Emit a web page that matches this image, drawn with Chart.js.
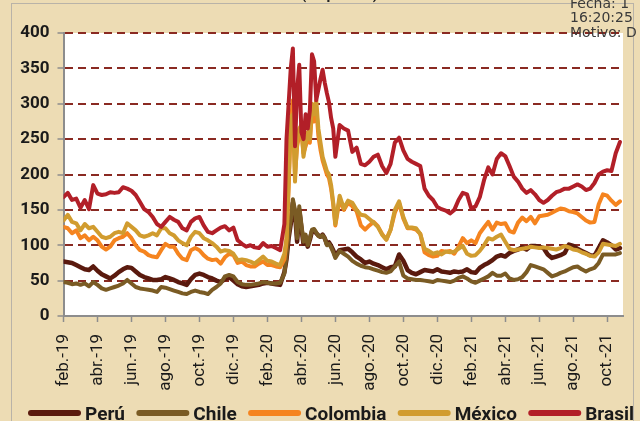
<!DOCTYPE html>
<html>
<head>
<meta charset="utf-8">
<script src="https://cdn.jsdelivr.net/npm/chart.js@4/dist/chart.umd.min.js"></script>
<style>
  html, body { margin: 0; padding: 0; background: #eddcb4; }
  #wrap { width: 640px; height: 421px; position: relative; }
</style>
</head>
<body>
<div id="wrap"><canvas id="chart" width="640" height="421"></canvas></div>
<script>
// months since 1 Feb 2019: weekly, then half-weekly through the March 2020 spike
function steps(from, to, step) {
    const out = [];
    for (let v = from; v <= to + 1e-9; v += step) out.push(Math.round(v * 1000) / 1000);
    return out;
}
const months = [...steps(0, 12.75, 0.25), ...steps(13, 15.875, 0.125), ...steps(16, 32.75, 0.25)];

const tickMonths = [0, 2, 4, 6, 8, 10, 12, 14, 16, 18, 20, 22, 24, 26, 28, 30, 32];
const tickLabels = ['feb.-19', 'abr.-19', 'jun.-19', 'ago.-19', 'oct.-19', 'dic.-19', 'feb.-20', 'abr.-20', 'jun.-20',
    'ago.-20', 'oct.-20', 'dic.-20', 'feb.-21', 'abr.-21', 'jun.-21', 'ago.-21', 'oct.-21'];
const yTicks = [0, 50, 100, 150, 200, 250, 300, 350, 400];

const seriesNames = ['Perú', 'Chile', 'Colombia', 'México', 'Brasil'];
const seriesColors = ['#5a1a0e', '#7a5b24', '#f5841f', '#d19c2f', '#b21f28'];
const seriesWidths = [4.5, 4, 4, 4, 4];

const peru = [
    77, 76, 75, 72, 69, 66, 65, 70, 64, 59, 56, 53, 57, 62, 66, 69, 68, 63, 58, 55, 53, 51, 51, 52, 55, 53,
    51, 48, 46, 44, 52, 58, 60, 58, 55, 53, 50, 48, 52, 55, 50, 45, 42, 41, 42, 43, 44, 46, 47, 46, 45, 44,
    62, 80, 110, 130, 160, 145, 105, 150, 125, 102, 112, 98, 108, 120, 121, 117, 114, 112, 115, 110, 102, 104, 99, 93,
    85, 93, 94, 95, 90, 84, 80, 75, 77, 74, 72, 69, 66, 69, 70, 87, 78, 65, 61, 59, 62, 65, 64, 63,
    66, 63, 62, 61, 63, 62, 63, 66, 62, 61, 68, 72, 75, 79, 84, 86, 84, 89, 92, 94, 97, 94, 99, 99,
    98, 96, 87, 82, 84, 86, 89, 101, 99, 95, 92, 89, 86, 85, 96, 107, 104, 100, 94, 96
];
const chile = [
    48, 47, 45, 46, 44, 46, 42, 48, 44, 39, 37, 39, 41, 43, 46, 51, 46, 41, 39, 38, 37, 36, 34, 41, 40, 38,
    36, 34, 32, 31, 34, 36, 34, 33, 31, 37, 41, 46, 56, 58, 56, 48, 45, 44, 44, 45, 46, 48, 47, 46, 46, 47,
    60, 85, 115, 135, 165, 150, 110, 155, 130, 105, 115, 100, 110, 122, 123, 118, 113, 112, 114, 110, 100, 102, 97, 90,
    82, 92, 88, 84, 78, 74, 71, 69, 68, 66, 64, 62, 61, 63, 70, 77, 57, 53, 52, 51, 51, 50, 49, 48,
    51, 50, 49, 48, 50, 54, 56, 53, 49, 47, 50, 53, 56, 61, 57, 57, 60, 53, 51, 52, 55, 62, 72, 70,
    68, 66, 61, 56, 58, 61, 63, 66, 69, 70, 66, 63, 66, 68, 75, 87, 87, 87, 87, 89
];
const colombia = [
    126, 124, 117, 121, 110, 114, 107, 112, 107, 98, 94, 98, 107, 110, 112, 117, 110, 100, 93, 91, 86, 84, 83, 93, 102, 98,
    98, 88, 81, 79, 93, 96, 93, 86, 81, 79, 80, 74, 83, 88, 86, 75, 77, 72, 70, 70, 74, 77, 72, 72, 70, 69,
    80, 105, 180, 270, 305, 200, 240, 255, 262, 230, 240, 250, 245, 290, 275, 295, 255, 235, 220, 210, 200, 195, 180, 158,
    128, 165, 150, 160, 155, 148, 128, 122, 128, 133, 127, 116, 108, 122, 146, 160, 138, 124, 124, 122, 116, 90, 86, 84,
    85, 92, 91, 92, 88, 98, 110, 103, 107, 103, 117, 125, 133, 122, 132, 130, 131, 120, 118, 132, 139, 134, 140, 131,
    141, 142, 143, 146, 149, 152, 151, 148, 147, 145, 140, 135, 132, 133, 158, 172, 170, 163, 157, 162
];
const mexico = [
    135, 143, 133, 131, 121, 130, 124, 126, 119, 112, 110, 112, 117, 119, 117, 131, 126, 121, 114, 112, 114, 117, 114, 124, 124, 117,
    114, 107, 103, 100, 112, 119, 117, 110, 107, 103, 98, 91, 93, 92, 88, 79, 80, 79, 77, 74, 79, 84, 78, 77, 74, 72,
    88, 110, 190, 280, 285, 190, 250, 265, 270, 225, 245, 260, 250, 300, 285, 305, 265, 245, 225, 215, 205, 200, 185, 160,
    130, 170, 152, 163, 160, 150, 143, 142, 137, 132, 126, 115, 108, 122, 150, 162, 140, 125, 125, 124, 116, 95, 92, 88,
    90, 87, 91, 90, 91, 95, 99, 88, 85, 86, 92, 100, 110, 108, 112, 115, 105, 95, 93, 94, 95, 96, 98, 97,
    96, 97, 96, 95, 94, 96, 99, 97, 94, 93, 90, 88, 85, 84, 90, 102, 101, 100, 99, 102
];
const brasil = [
    168, 174, 164, 166, 153, 164, 151, 185, 173, 171, 172, 175, 174, 175, 182, 180, 177, 171, 161, 151, 147, 140, 130, 126, 133, 140,
    136, 133, 124, 121, 133, 138, 140, 128, 119, 117, 121, 125, 127, 121, 125, 107, 102, 98, 100, 97, 96, 103, 98, 99, 96, 93,
    130, 250, 300, 350, 378, 240, 320, 355, 260, 250, 285, 265, 290, 370, 360, 305, 320, 335, 348, 330, 315, 302, 280, 265,
    225, 270, 265, 262, 232, 238, 215, 213, 218, 225, 228, 212, 202, 215, 245, 252, 234, 222, 218, 215, 212, 180, 170, 164,
    154, 151, 149, 145, 150, 164, 174, 172, 152, 155, 168, 192, 210, 200, 222, 230, 226, 212, 197, 190, 180, 174, 178, 172,
    164, 160, 164, 170, 175, 177, 180, 180, 183, 186, 183, 178, 180, 188, 200, 204, 206, 205, 230, 246
];
const seriesValues = [peru, chile, colombia, mexico, brasil];

const FONT = "Roboto, 'Liberation Sans', Arial, sans-serif";

// parchment backdrop, white plot area, header texts and the legend strip
const backdrop = {
    id: 'backdrop',
    beforeDraw(chart) {
        const { ctx, chartArea: a } = chart;
        ctx.save();
        ctx.fillStyle = '#eddcb4';
        ctx.fillRect(0, 0, chart.width, chart.height);
        ctx.strokeStyle = '#b9b3a8';
        ctx.lineWidth = 1;
        ctx.strokeRect(11.5, 3.5, 622, 430);
        ctx.fillStyle = '#ffffff';
        ctx.fillRect(a.left, a.top, a.right - a.left, a.bottom - a.top);
        ctx.restore();
    },
    afterDraw(chart) {
        const { ctx } = chart;
        ctx.save();
        ctx.fillStyle = '#3a3a3a';
        ctx.font = "14px 'DejaVu Sans', sans-serif";
        ctx.textBaseline = 'alphabetic';
        ctx.fillText('Fecha: 1', 570, 8);
        ctx.fillText('16:20:25', 570, 22);
        ctx.fillText('Motivo: D', 570, 37);
        ctx.font = "bold 15px " + FONT;
        ctx.fillStyle = '#222';
        ctx.fillText('(en puntos)', 301, -1);

        // legend: long thick line sample + bold label, spread across the bottom
        const left = 28, right = 634, lineLen = 53, textGap = 4, y = 413;
        ctx.font = "bold 19px " + FONT;
        const items = chart.data.datasets.map(d => ({ d, w: ctx.measureText(d.label).width }));
        const used = items.reduce((s, it) => s + lineLen + textGap + it.w, 0);
        const gap = (right - left - used) / (items.length - 1);
        let x = left;
        items.forEach(({ d, w }) => {
            ctx.strokeStyle = d.borderColor;
            ctx.lineWidth = 6;
            ctx.lineCap = 'round';
            ctx.beginPath();
            ctx.moveTo(x + 3, y);
            ctx.lineTo(x + lineLen - 3, y);
            ctx.stroke();
            ctx.fillStyle = '#1a1a1a';
            ctx.fillText(d.label, x + lineLen + textGap, 420);
            x += lineLen + textGap + w + gap;
        });
        ctx.restore();
    }
};

const ctx = document.getElementById('chart').getContext('2d');
const chart = new Chart(ctx, {
    type: 'line',
    data: {
        datasets: seriesNames.map((name, i) => ({
            label: name,
            data: months.map((m, j) => ({ x: m, y: seriesValues[i][j] })),
            borderColor: seriesColors[i],
            backgroundColor: seriesColors[i],
            borderWidth: seriesWidths[i],
            pointRadius: 0,
            tension: 0,
            borderJoinStyle: 'round',
            borderCapStyle: 'round',
            order: 5 - i
        }))
    },
    plugins: [backdrop],
    options: {
        responsive: false,
        animation: false,
        devicePixelRatio: 1,
        layout: { padding: { left: 20, right: 14, top: 33, bottom: 0 } },
        plugins: {
            tooltip: { enabled: false },
            legend: { display: false }
        },
        scales: {
            x: {
                type: 'linear',
                min: 0,
                max: 32.93,
                afterBuildTicks: s => { s.ticks = tickMonths.map(v => ({ value: v })); },
                afterFit: s => { s.height = 105; },
                border: { color: '#8d8d8d', width: 2 },
                grid: { drawOnChartArea: false, tickLength: 6, tickColor: '#8d8d8d', tickWidth: 1.5 },
                ticks: {
                    autoSkip: false,
                    minRotation: 90,
                    maxRotation: 90,
                    padding: 12,
                    color: '#1a1a1a',
                    font: { family: FONT, size: 17 },
                    callback: v => tickLabels[tickMonths.indexOf(v)]
                }
            },
            y: {
                min: 0,
                max: 400,
                afterBuildTicks: s => { s.ticks = yTicks.map(v => ({ value: v })); },
                afterFit: s => { s.width = 43.5; },
                border: { color: '#8d8d8d', width: 2, dash: [8, 5] },
                grid: {
                    color: c => c.tick.value === 0 ? 'rgba(0,0,0,0)' : '#8a2a22',
                    lineWidth: 2,
                    tickLength: 6,
                    tickColor: '#8d8d8d',
                    tickWidth: 1.5,
                    tickBorderDash: []
                },
                ticks: {
                    padding: 8,
                    color: '#1a1a1a',
                    font: { family: FONT, size: 17, weight: 'bold' }
                }
            }
        }
    }
});
</script>
</body>
</html>
